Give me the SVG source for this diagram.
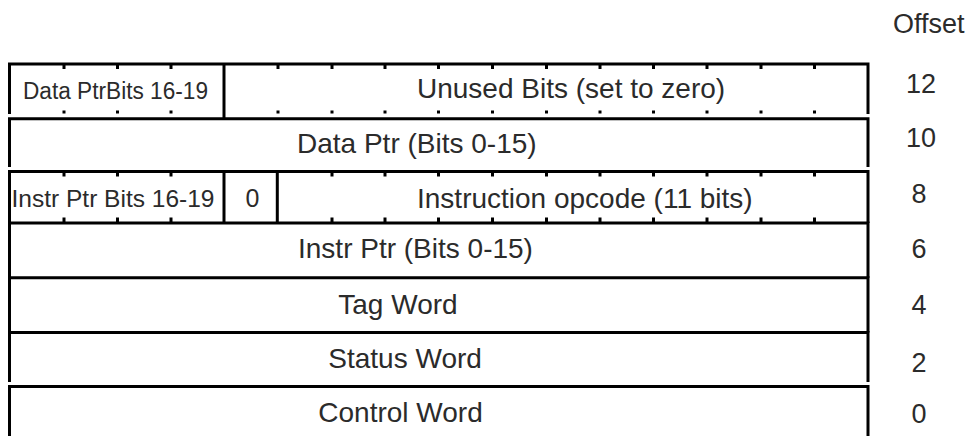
<svg xmlns="http://www.w3.org/2000/svg" width="971" height="436" viewBox="0 0 971 436">
  <style>
    .frame { fill: none; stroke: #000; stroke-width: 3; stroke-linejoin: miter; stroke-linecap: butt; }
    .tick { stroke: #000; stroke-width: 3; stroke-linecap: butt; }
    .lbl { font-family: "Liberation Sans", Arial, sans-serif; font-size: 28px; fill: #2b2b2b; }
    .small { font-size: 23px; }
    .off { font-family: "Liberation Sans", Arial, sans-serif; font-size: 27px; fill: #2b2b2b; text-anchor: middle; }
  </style>
  <rect x="0" y="0" width="971" height="436" fill="#fff"/>

  <!-- Offset column header -->
  <text id="offset-title" x="893" y="33" class="off" style="text-anchor:start">Offset</text>

  <!-- Offset 12: Data Ptr bits 16-19 + unused bits -->
  <g id="row-12">
    <path class="frame" d="M9.5,114 V64 H868 V114"/>
    <path class="tick" d="M224,64 V118.7"/>
    <path class="tick" d="M64,64v5 M117.5,64v5 M171,64v5 M278,64v5 M332,64v5 M385,64v5 M438.5,64v5 M492.5,64v5 M546.5,64v5 M600,64v5 M653.5,64v5 M707,64v5 M761,64v5 M814.5,64v5"/>
    <path class="tick" d="M64,110.5v3 M117.5,110.5v3 M171,110.5v3 M278,110.5v3 M332,110.5v3 M385,110.5v3 M438.5,110.5v3 M492.5,110.5v3 M546.5,110.5v3 M600,110.5v3 M653.5,110.5v3 M707,110.5v3 M761,110.5v3 M814.5,110.5v3"/>
    <text class="lbl small" x="23" y="99" textLength="185" lengthAdjust="spacingAndGlyphs">Data PtrBits 16-19</text>
    <text class="lbl" x="417" y="98">Unused Bits (set to zero)</text>
    <text class="off" x="921" y="93">12</text>
  </g>

  <!-- Offset 10 -->
  <g id="row-10">
    <path class="frame" d="M9.5,167 V118.7 H868 V167"/>
    <text class="lbl" x="297" y="152.5">Data Ptr (Bits 0-15)</text>
    <text class="off" x="921" y="147">10</text>
  </g>

  <!-- Offset 8: Instr Ptr bits 16-19, zero bit, opcode -->
  <g id="row-8">
    <path class="frame" d="M9.5,223 V171.5 H868 V223"/>
    <path class="tick" d="M224,171.5 V223 M277.3,171.5 V223"/>
    <path class="tick" d="M64,171.5v5 M117.5,171.5v5 M171,171.5v5 M332,171.5v5 M385,171.5v5 M438.5,171.5v5 M492.5,171.5v5 M546.5,171.5v5 M600,171.5v5 M653.5,171.5v5 M707,171.5v5 M761,171.5v5 M814.5,171.5v5"/>
    <path class="tick" d="M64,217.5v5 M117.5,217.5v5 M171,217.5v5 M332,217.5v5 M385,217.5v5 M438.5,217.5v5 M492.5,217.5v5 M546.5,217.5v5 M600,217.5v5 M653.5,217.5v5 M707,217.5v5 M761,217.5v5 M814.5,217.5v5"/>
    <text class="lbl" x="11.5" y="207.3" style="font-size:24px" textLength="203" lengthAdjust="spacingAndGlyphs">Instr Ptr Bits 16-19</text>
    <text class="lbl" x="252.5" y="206.7" style="font-size:25px" text-anchor="middle">0</text>
    <text class="lbl" x="417" y="207.7">Instruction opcode (11 bits)</text>
    <text class="off" x="919" y="203.3">8</text>
  </g>

  <!-- Offset 6 -->
  <g id="row-6">
    <path class="frame" d="M9.5,277.8 V223 H868 V277.8"/>
    <text class="lbl" x="298" y="258">Instr Ptr (Bits 0-15)</text>
    <text class="off" x="919" y="258.3">6</text>
  </g>

  <!-- Offset 4 -->
  <g id="row-4">
    <path class="frame" d="M9.5,332.5 V277.8 H868 V332.5"/>
    <text class="lbl" x="338.3" y="314.3">Tag Word</text>
    <text class="off" x="919" y="314">4</text>
  </g>

  <!-- Offset 2 -->
  <g id="row-2">
    <path class="frame" d="M9.5,382 V332.5 H868 V382"/>
    <text class="lbl" x="328.3" y="368.3">Status Word</text>
    <text class="off" x="919" y="371.7">2</text>
  </g>

  <!-- Offset 0 -->
  <g id="row-0">
    <path class="frame" d="M9.5,440 V386.5 H868 V440"/>
    <text class="lbl" x="318.3" y="421.7">Control Word</text>
    <text class="off" x="919" y="423.3">0</text>
  </g>

  <!-- no connectors in this layout -->
  <g id="connectors"/>
</svg>
